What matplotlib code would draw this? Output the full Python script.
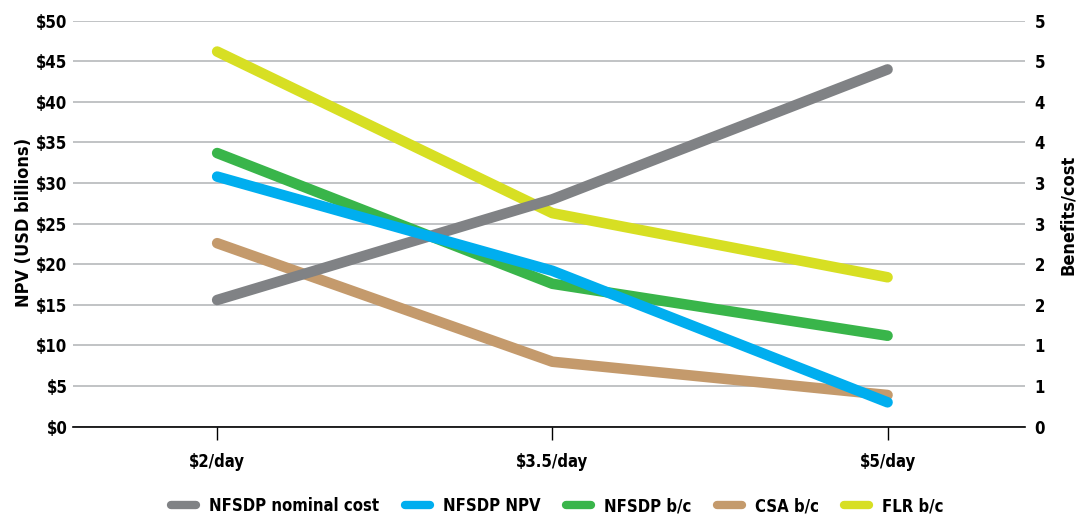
"""NFSDP cost, NPV and benefit/cost ratios across poverty-line scenarios."""
import numpy as np
import matplotlib
matplotlib.use("Agg")
import matplotlib.pyplot as plt  # noqa: E402
from matplotlib.lines import Line2D  # noqa: E402

plt.rcParams["font.family"] = ["DejaVu Sans"]
plt.rcParams["font.stretch"] = "condensed"
plt.rcParams["font.weight"] = "bold"

scenarios = ["$2/day", "$3.5/day", "$5/day"]

# USD billions (left axis)
nfsdp_nominal_cost = [15.6, 28.0, 44.0]
nfsdp_npv = [30.8, 19.2, 3.0]

# benefit/cost ratios (right axis)
nfsdp_bc = [3.37, 1.76, 1.12]
csa_bc = [2.26, 0.80, 0.39]
flr_bc = [4.62, 2.63, 1.84]

colors = {
    "NFSDP nominal cost": "#808285",
    "NFSDP NPV": "#00aeef",
    "NFSDP b/c": "#39b54a",
    "CSA b/c": "#c49a6c",
    "FLR b/c": "#d7df23",
}

LW = 7.6
line_kw = dict(linewidth=LW, solid_capstyle="round", solid_joinstyle="round")

fig = plt.figure(figsize=(10.77, 5.15), dpi=100)
ax = fig.add_axes([0.0678, 0.1715, 0.8839, 0.7883])
ax2 = ax.twinx()

# left-axis series sit above the ratio series, grid lives on the lower axes
ax.set_zorder(ax2.get_zorder() + 1)
ax.patch.set_visible(False)
ax2.patch.set_visible(True)
ax2.patch.set_facecolor("white")

x = np.arange(len(scenarios))

ax2.plot(x, flr_bc, color=colors["FLR b/c"], **line_kw)
ax2.plot(x, nfsdp_bc, color=colors["NFSDP b/c"], **line_kw)
ax2.plot(x, csa_bc, color=colors["CSA b/c"], **line_kw)

ax.plot(x, nfsdp_nominal_cost, color=colors["NFSDP nominal cost"], **line_kw)
ax.plot(x, nfsdp_npv, color=colors["NFSDP NPV"], **line_kw)

ax.set_xlim(-0.43, 2.41)
ax.set_ylim(0, 50)
ax2.set_ylim(0, 5)

ax.set_yticks(np.arange(0, 51, 5))
ax.set_yticklabels([f"${v}" for v in range(0, 51, 5)])
r_ticks = np.arange(0, 5.01, 0.5)
ax2.set_yticks(r_ticks)
# ratios are shown rounded half-up to whole numbers
ax2.set_yticklabels([str(int(np.floor(v + 0.5))) for v in r_ticks])
ax2.grid(True, axis="y", color="#bcbec0", linewidth=1.3)
ax2.set_axisbelow(True)

ax.set_xticks(x)
ax.set_xticklabels(scenarios)

for a in (ax, ax2):
    for side in ("top", "left", "right"):
        a.spines[side].set_visible(False)
ax2.spines["bottom"].set_visible(False)
ax.spines["bottom"].set_color("black")
ax.spines["bottom"].set_linewidth(1.2)

ax.tick_params(axis="x", direction="out", length=9, width=1, color="black",
               pad=10, labelsize=12)
ax.tick_params(axis="y", length=0, pad=4, labelsize=12)
ax2.tick_params(axis="y", length=0, pad=7, labelsize=12)

ax.set_ylabel("NPV (USD billions)", fontsize=13, fontweight="bold")
ax.yaxis.set_label_coords(-0.042, 0.503)
ax2.set_ylabel("Benefits/cost", fontsize=13, fontweight="bold")
ax2.yaxis.set_label_coords(1.036, 0.521)

handles = [Line2D([0], [0], color=c, linewidth=6, solid_capstyle="round")
           for c in colors.values()]
fig.legend(handles, list(colors.keys()), loc="center", ncol=5,
           bbox_to_anchor=(0.5177, 0.017), frameon=False, fontsize=12,
           handlelength=1.48, handletextpad=0.79, columnspacing=1.54)

fig.savefig("out.png", dpi=100)
plt.close(fig)
